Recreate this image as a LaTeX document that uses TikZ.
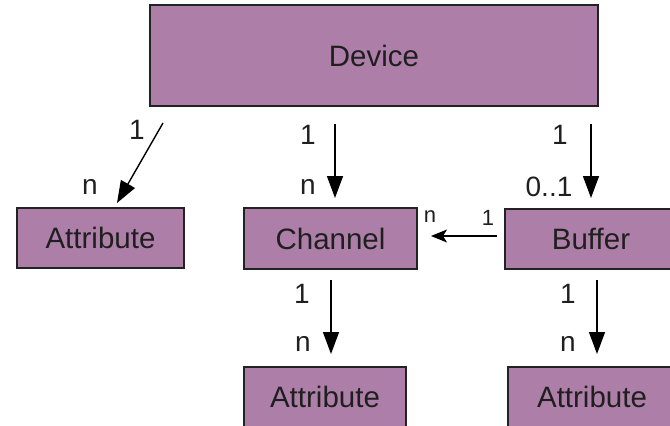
\documentclass[tikz,border=0pt]{standalone}
\usepackage{fontspec}
\setmainfont{Liberation Sans}
\usetikzlibrary{arrows.meta}
\definecolor{boxfill}{HTML}{AD7FA8}
\definecolor{boxline}{HTML}{222222}
\tikzset{
  entity/.style={draw=boxline, line width=1.8pt, fill=boxfill, inner sep=0pt,
    font=\fontsize{29.5}{32}\selectfont, text=black!88},
  rel/.style={line width=1.4pt, -{Triangle[length=22pt,width=16pt]}},
  relside/.style={line width=1.2pt, -{Stealth[length=16pt,width=13pt,inset=4pt]}},
  card/.style={inner sep=0pt, font=\fontsize{28}{30}\selectfont, text=black!88},
  cardsmall/.style={inner sep=0pt, font=\fontsize{22}{24}\selectfont, text=black!88},
}
\begin{document}
\begin{tikzpicture}[x=1pt, y=-1pt]
\useasboundingbox (0,0) rectangle (670,426);
\clip (0,0) rectangle (670,426);

% entity boxes
\node[entity, minimum width=448pt, minimum height=101pt] (device) at (374,55.5) {Device};
\node[entity, minimum width=167pt, minimum height=60pt] (attrL) at (100.5,238) {Attribute};
\node[entity, minimum width=173pt, minimum height=61pt] (channel) at (330.5,238.5) {Channel};
\node[entity, minimum width=172pt, minimum height=60pt] (buffer) at (591,239) {Buffer};
\node[entity, minimum width=162pt, minimum height=60pt] (attrC) at (325,397) {Attribute};
\node[entity, minimum width=168pt, minimum height=60pt] (attrR) at (592,397) {Attribute};

% connector end points
\coordinate (dA1) at (163,123);
\coordinate (dA2) at (117,203);
\coordinate (dC1) at (335,124);
\coordinate (dC2) at (335,198);
\coordinate (dB1) at (591,124);
\coordinate (dB2) at (591,198);
\coordinate (bC1) at (497,236);
\coordinate (bC2) at (431,236);
\coordinate (cA1) at (331,280);
\coordinate (cA2) at (331,354);
\coordinate (bA1) at (597,280);
\coordinate (bA2) at (597,354);

% relations
\draw[rel] (dA1) -- (dA2);
\draw[rel] (dC1) -- (dC2);
\draw[rel] (dB1) -- (dB2);
\draw[relside] (bC1) -- (bC2);
\draw[rel] (cA1) -- (cA2);
\draw[rel] (bA1) -- (bA2);

% cardinalities
\node[card] (l1) at (137,130) {1};
\node[card] (l2) at (90,187) {n};
\node[card] (l3) at (308,135) {1};
\node[card] (l4) at (308,187) {n};
\node[card] (l5) at (560,135) {1};
\node[card] (l6) at (549,187) {0..1};
\node[cardsmall] (l7) at (430,217) {n};
\node[cardsmall] (l8) at (488,218) {1};
\node[card] (l9) at (302,294) {1};
\node[card] (l10) at (303,344) {n};
\node[card] (l11) at (568,294) {1};
\node[card] (l12) at (568,344) {n};
\end{tikzpicture}
\end{document}
